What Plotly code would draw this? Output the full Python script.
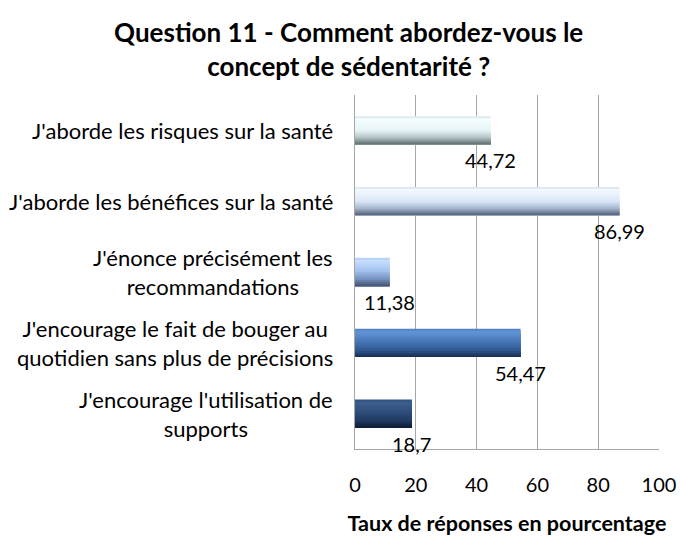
import plotly.graph_objects as go

categories = [
    "J'aborde les risques sur la santé",
    "J'aborde les bénéfices sur la santé",
    "J'énonce précisément les<br>recommandations",
    "J'encourage le fait de bouger au<br>quotidien sans plus de précisions",
    "J'encourage l'utilisation de<br>supports",
]
values = [44.72, 86.99, 11.38, 54.47, 18.7]
value_labels = ["44,72", "86,99", "11,38", "54,47", "18,7"]
x_ticks = [0, 20, 40, 60, 80, 100]

# vertical gradient stops per bar (top -> bottom)
gradients = [
    [(0.0, "#d3e2e3"), (0.1, "#f4feff"), (0.5, "#e6f4f6"), (0.75, "#b3c3c5"), (1.0, "#5b6b6e")],
    [(0.0, "#d3e0ef"), (0.1, "#f3f9ff"), (0.5, "#dae7f7"), (0.75, "#a6b7cf"), (1.0, "#525e74")],
    [(0.0, "#aecaee"), (0.1, "#c6defc"), (0.45, "#a3c3ee"), (0.75, "#7692c0"), (1.0, "#414f6d")],
    [(0.0, "#4e7dbe"), (0.12, "#6294d6"), (0.45, "#4877b8"), (0.75, "#315a93"), (1.0, "#172c52")],
    [(0.0, "#2e4d7a"), (0.12, "#3d5f8e"), (0.45, "#2e4d7a"), (0.75, "#203a60"), (1.0, "#0c1a34")],
]


def hex2rgb(h):
    h = h.lstrip("#")
    return tuple(int(h[i:i + 2], 16) for i in (0, 2, 4))


def interp(stops, t):
    for (t0, c0), (t1, c1) in zip(stops[:-1], stops[1:]):
        if t0 <= t <= t1:
            f = (t - t0) / (t1 - t0) if t1 > t0 else 0
            a, b = hex2rgb(c0), hex2rgb(c1)
            r = [round(a[i] + (b[i] - a[i]) * f) for i in range(3)]
            return "rgb(%d,%d,%d)" % tuple(r)
    return stops[-1][1]


fig = go.Figure()
bar_w = 0.4
n_slices = 14
sw = bar_w / n_slices
# layered bars: each layer starts lower and runs to the bar's bottom edge
for k in range(n_slices):
    t = (k + 0.5) / n_slices
    cols = [interp(g, t) for g in gradients]
    fig.add_trace(go.Bar(
        x=values, y=categories, orientation="h",
        width=bar_w - k * sw,
        offset=-bar_w / 2 + k * sw,
        marker=dict(color=cols, line=dict(width=0)),
        showlegend=False, hoverinfo="x+y",
    ))

# value labels below the end of each bar
for cat, v, lab in zip(categories, values, value_labels):
    fig.add_annotation(
        x=v, y=cat, text=lab, showarrow=False,
        xanchor="center", yanchor="middle", yshift=-30,
        font=dict(family="Lato", size=20, color="#000000"),
    )

# category labels: block right-aligned to the axis, lines centred
for cat in categories:
    fig.add_annotation(
        x=0, xref="paper", y=cat, yref="y", text=cat, showarrow=False,
        xanchor="right", yanchor="middle", align="center", xshift=-20,
        font=dict(family="Lato", size=22, color="#000000"),
    )

fig.update_layout(
    width=681, height=536,
    barmode="overlay",
    paper_bgcolor="white", plot_bgcolor="white",
    margin=dict(l=355, r=22, t=95, b=87, autoexpand=False),
    title=dict(
        text="<b>Question 11 - Comment abordez-vous le<br>concept de sédentarité ?</b>",
        x=0.512, xanchor="center", xref="container",
        y=1 - 42 / 536, yanchor="top", yref="container",
        font=dict(family="Lato", size=26, color="#000000"),
    ),
    xaxis=dict(
        range=[0, 100], tickvals=x_ticks, ticktext=[str(t) for t in x_ticks],
        showgrid=True, gridcolor="#a6a6a6", gridwidth=1,
        showline=True, linecolor="#a6a6a6", linewidth=1, mirror=False,
        ticks="", ticklabelstandoff=18, automargin=False,
        tickfont=dict(family="Lato", size=20, color="#000000"),
        title=dict(text="<b>Taux de réponses en pourcentage</b>", standoff=22,
                   font=dict(family="Lato", size=21.5, color="#000000")),
        zeroline=False, fixedrange=True,
    ),
    yaxis=dict(
        range=[len(categories) - 0.5, -0.5], automargin=False,
        showline=True, linecolor="#a6a6a6", linewidth=1,
        showgrid=False, ticks="", showticklabels=False,
        fixedrange=True,
    ),
)

fig.write_html(
    "out.html",
    config={"displayModeBar": False},
    post_script="document.body.style.margin='0';document.body.style.overflow='hidden';",
)
